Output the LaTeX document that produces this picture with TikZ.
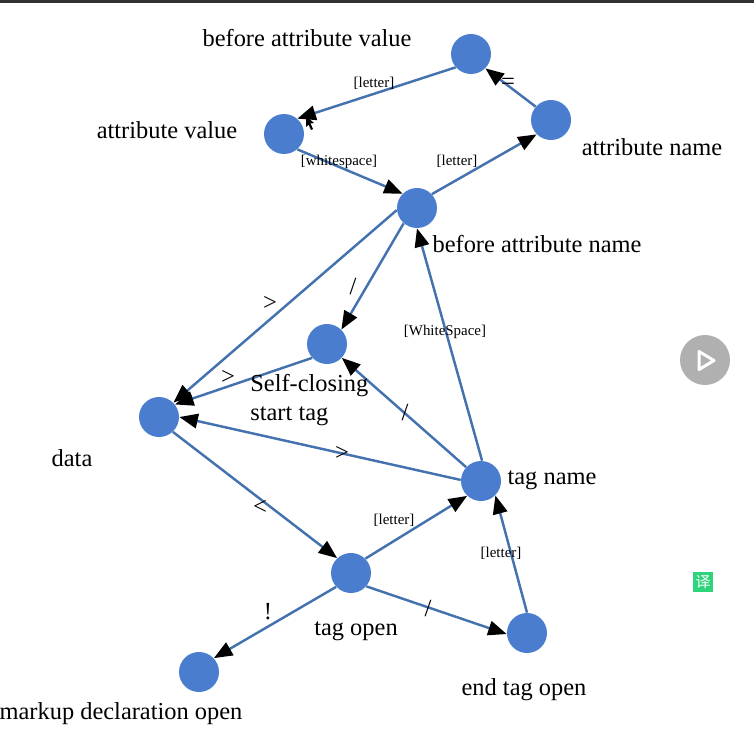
\documentclass[tikz,border=0pt]{standalone}
\usepackage{fontspec}
\setmainfont{Liberation Serif}
\newfontfamily\cjkfont{Noto Sans CJK SC}
\usetikzlibrary{arrows.meta,calc}
\definecolor{statefill}{HTML}{4A7DCE}
\definecolor{edgeblue}{HTML}{4472AE}
\definecolor{transgreen}{HTML}{2ED47A}
\tikzset{
  statenode/.style={circle,fill=statefill,minimum size=.8cm,inner sep=0pt},
  edgeline/.style={draw=edgeblue,line width=1.4pt,-{Triangle[black,length=.37cm,width=.29cm]}},
  namelabel/.style={font=\fontsize{13.9}{16.4}\selectfont,inner sep=0pt},
  smalllabel/.style={font=\fontsize{8.5}{10}\selectfont,inner sep=0pt},
  charlabel/.style={font=\fontsize{14}{16}\selectfont,inner sep=0pt}
}

\begin{document}
\begin{tikzpicture}[x=.02cm,y=-.02cm]
    \useasboundingbox (0,0) rectangle (754,741);
    \fill[black!80] (0,0) rectangle (754,3);
    % states
    \node[statenode] (bav) at (471,54) {};
    \node[statenode] (an) at (551,120) {};
    \node[statenode] (av) at (284,134) {};
    \node[statenode] (ban) at (417,208) {};
    \node[statenode] (sc) at (327,344) {};
    \node[statenode] (data) at (159,417) {};
    \node[statenode] (tn) at (481,481) {};
    \node[statenode] (to) at (351,573) {};
    \node[statenode] (eto) at (527,633) {};
    \node[statenode] (mdo) at (199,672) {};
    % transitions
    \draw[edgeline] (an.139) -- (bav.315);
    \draw[edgeline] (bav.221) -- (av.49);
    \draw[edgeline] (av.311) -- (ban.135);
    \draw[edgeline] (ban.43) -- (an.225);
    \draw[edgeline] (ban.186) -- (data.45);
    \draw[edgeline] (ban.229) -- (sc.45);
    \draw[edgeline] (sc.223) -- (data.38);
    \draw[edgeline] (tn.87) -- (ban.270);
    \draw[edgeline] (tn.137) -- (sc.317);
    \draw[edgeline] (tn.177) -- (data.0);
    \draw[edgeline] (data.313) -- (to.133);
    \draw[edgeline] (to.45) -- (tn.227);
    \draw[edgeline] (to.319) -- (eto.183);
    \draw[edgeline] (to.223) -- (mdo.43);
    \draw[edgeline] (eto.90) -- (tn.315);
    % state names
    \node[namelabel] (bavname) at (307,38) {before attribute value};
    \node[namelabel] (avname) at (167,130) {attribute value};
    \node[namelabel] (anname) at (652,147) {attribute name};
    \node[namelabel] (banname) at (537,244) {before attribute name};
    \node[namelabel,anchor=west,align=left] (scname) at (250,400) {Self-closing\\start tag};
    \node[namelabel] (dataname) at (72,458) {data};
    \node[namelabel] (tnname) at (552,480) {tag name};
    \node[namelabel] (toname) at (356,631) {tag open};
    \node[namelabel] (etoname) at (524,690) {end tag open};
    \node[namelabel] (mdoname) at (121,714) {markup declaration open};
    % transition labels
    \node[smalllabel] (letterav) at (374,83) {[letter]};
    \node[smalllabel] (wsav) at (339,162) {[whitespace]};
    \node[smalllabel] (letteran) at (457,161) {[letter]};
    \node[smalllabel] (wstn) at (445,332) {[WhiteSpace]};
    \node[smalllabel] (lettertn) at (394,520) {[letter]};
    \node[smalllabel] (lettereto) at (501,553) {[letter]};
    \node[charlabel] (eqbav) at (508,84) {=};
    \node[charlabel] (gtban) at (270,303) {>};
    \node[charlabel] (slashban) at (353,287) {/};
    \node[charlabel] (gtsc) at (228,377) {>};
    \node[charlabel] (slashtn) at (405,413) {/};
    \node[charlabel] (gttn) at (342,453) {>};
    \node[charlabel] (ltdata) at (260,507) {<};
    \node[charlabel] (bangto) at (268,612) {!};
    \node[charlabel] (slashto) at (428,609) {/};
    % player overlays
    \fill[black!31] (705,360) circle[radius=25];
    \draw[white,line width=1.7pt,line join=round] (699,351.5) -- (699,369.5) -- (714,360.5) -- cycle;
    \node[fill=transgreen,minimum size=.4cm,inner sep=0pt,text=white,font=\cjkfont\fontsize{8.5}{10}\selectfont] (trans) at (703,582) {译};
    % pointer
    \fill[black] (306,116) -- (306,127) -- (308.5,124.5) -- (311,130) -- (313,129) -- (310.5,123.5) -- (314,123) -- cycle;
\end{tikzpicture}
\end{document}
